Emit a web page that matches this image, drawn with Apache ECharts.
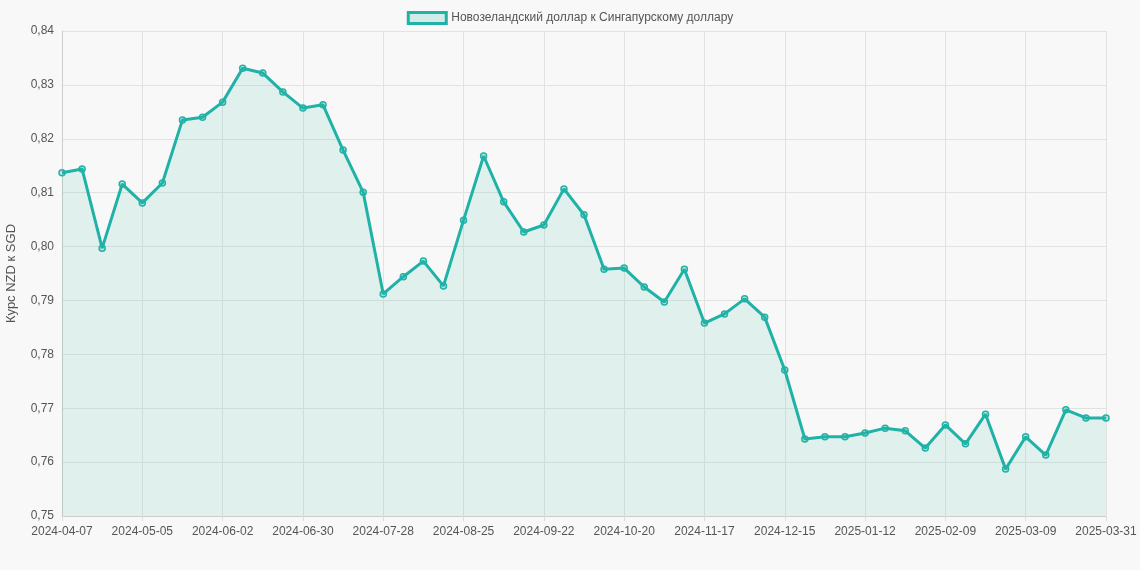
<!DOCTYPE html>
<html>
<head>
<meta charset="utf-8">
<script src="https://cdn.jsdelivr.net/npm/echarts@6/dist/echarts.min.js"></script>
<style>
  html, body { margin: 0; padding: 0; background: #f8f8f8; }
  #chart { width: 1140px; height: 570px; }
</style>
</head>
<body>
<div id="chart"></div>
<script>
// Недельные даты (последняя точка — 2025-03-31)
const dates = [
    "2024-04-07", "2024-04-14", "2024-04-21", "2024-04-28", "2024-05-05", "2024-05-12", "2024-05-19", "2024-05-26",
    "2024-06-02", "2024-06-09", "2024-06-16", "2024-06-23", "2024-06-30", "2024-07-07", "2024-07-14", "2024-07-21",
    "2024-07-28", "2024-08-04", "2024-08-11", "2024-08-18", "2024-08-25", "2024-09-01", "2024-09-08", "2024-09-15",
    "2024-09-22", "2024-09-29", "2024-10-06", "2024-10-13", "2024-10-20", "2024-10-27", "2024-11-03", "2024-11-10",
    "2024-11-17", "2024-11-24", "2024-12-01", "2024-12-08", "2024-12-15", "2024-12-22", "2024-12-29", "2025-01-05",
    "2025-01-12", "2025-01-19", "2025-01-26", "2025-02-02", "2025-02-09", "2025-02-16", "2025-02-23", "2025-03-02",
    "2025-03-09", "2025-03-16", "2025-03-23", "2025-03-30", "2025-03-31"
];

const rates = [
    0.8137, 0.8144, 0.7997, 0.8116, 0.8081, 0.8118, 0.8235, 0.8240,
    0.8268, 0.8331, 0.8322, 0.8287, 0.8257, 0.8263, 0.8179, 0.8101,
    0.7912, 0.7944, 0.7973, 0.7927, 0.8049, 0.8168, 0.8083, 0.8027,
    0.8040, 0.8107, 0.8059, 0.7958, 0.7960, 0.7925, 0.7897, 0.7958,
    0.7858, 0.7875, 0.7903, 0.7869, 0.7771, 0.7643, 0.7647, 0.7647,
    0.7654, 0.7663, 0.7658, 0.7626, 0.7669, 0.7634, 0.7689, 0.7587,
    0.7647, 0.7613, 0.7697, 0.7682, 0.7682
];

const seriesName = "Новозеландский доллар к Сингапурскому доллару";
const lineColor = "#20b2a6";

const myChart = echarts.init(document.getElementById("chart"));

const option = {
    backgroundColor: "#f8f8f8",
    textStyle: { fontFamily: "Liberation Sans, Arial, sans-serif" },
    legend: {
        top: 6,
        left: "center",
        itemWidth: 38,
        itemHeight: 11,
        icon: "rect",
        textStyle: { color: "#555", fontSize: 12 },
        data: [{
            name: seriesName,
            itemStyle: { color: "rgba(32,178,166,0.18)", borderColor: lineColor, borderWidth: 3 }
        }]
    },
    grid: { left: 62, right: 34, top: 31, bottom: 54, outerBoundsMode: "none" },
    xAxis: {
        type: "category",
        data: dates,
        boundaryGap: false,
        axisLine: { lineStyle: { color: "#ccc" } },
        axisTick: { show: true, interval: 3, lineStyle: { color: "#ddd" } },
        axisLabel: { interval: 3, color: "#555", fontSize: 12, margin: 10 },
        splitLine: { show: true, interval: 3, lineStyle: { color: "#e2e2e2" } }
    },
    yAxis: {
        type: "value",
        min: 0.75,
        max: 0.84,
        interval: 0.01,
        name: "Курс NZD к SGD",
        nameLocation: "middle",
        nameGap: 44,
        nameTextStyle: { color: "#555", fontSize: 13 },
        axisLine: { show: true, lineStyle: { color: "#ccc" } },
        axisLabel: {
            color: "#555",
            fontSize: 12,
            formatter: v => v.toFixed(2).replace(".", ",")
        },
        splitLine: { lineStyle: { color: "#e2e2e2" } }
    },
    series: [{
        name: seriesName,
        type: "line",
        data: rates,
        symbol: "circle",
        symbolSize: 6,
        showAllSymbol: true,
        itemStyle: { color: "rgba(32,178,166,0.25)", borderColor: lineColor, borderWidth: 1.5 },
        lineStyle: { color: lineColor, width: 3 },
        areaStyle: { color: "rgba(32,178,150,0.15)" }
    }]
};

myChart.setOption(option);
</script>
</body>
</html>
